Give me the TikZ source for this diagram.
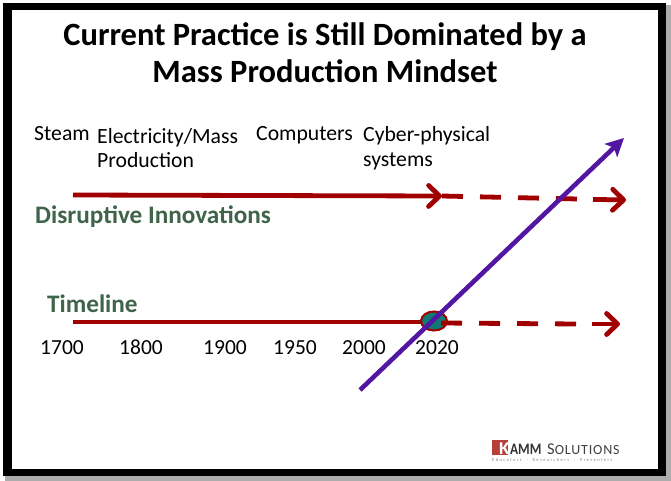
\documentclass[tikz,border=0pt]{standalone}
\usepackage{fontspec}
\setmainfont{Carlito}
\usetikzlibrary{arrows.meta,shapes.geometric}
\definecolor{kred}{HTML}{A00000}
\definecolor{kgreen}{HTML}{3F6449}
\definecolor{kpurple}{HTML}{5216A3}
\definecolor{kteal}{HTML}{0F7A72}
\definecolor{klogo}{HTML}{B5403A}
\tikzset{
  x=1pt,y=-1pt,
  titletext/.style={font=\fontsize{32.5}{37}\selectfont\bfseries,anchor=center,align=center,text=black},
  lab/.style={font=\fontsize{21.7}{24.5}\selectfont,anchor=west,align=left,inner sep=0pt,text=black},
  yr/.style={font=\fontsize{21.5}{25}\selectfont,anchor=base,inner sep=0pt,text=black},
  grn/.style={font=\fontsize{25.2}{29}\selectfont\bfseries,anchor=west,inner sep=0pt,text=kgreen},
  redline/.style={draw=kred,line width=4.8pt},
  redarrow/.style={redline,-{Straight Barb[length=11pt,width=21pt,line width=4.8pt,round]}},
  reddash/.style={redline,dash pattern=on 21pt off 17pt},
  purplearrow/.style={draw=kpurple,line width=4.6pt,-{Stealth[length=18pt,width=18pt,inset=4pt]}},
  logotext/.style={inner sep=0pt,anchor=base west},
}
\begin{document}
\begin{tikzpicture}
\useasboundingbox (0,0) rectangle (671,481);
\fill[gray!65] (5,5) rectangle (671,481);
\fill[black] (3,3) rectangle (666,476);
\fill[white] (12,10) rectangle (658,469);

\node[titletext] (title) at (325,52.5) {Current Practice is Still Dominated by a\\Mass Production Mindset};

\node[lab,anchor=base west] (steam) at (34,141) {Steam};
\node[lab] (elec) at (97,148) {Electricity/Mass\\Production};
\node[lab,anchor=base west] (comp) at (256,141) {Computers};
\node[lab] (cyber) at (363,148) {Cyber-physical\\systems};
\node[grn] (disrupt) at (35,217) {Disruptive Innovations};
\node[grn] (tl) at (47,304) {Timeline};

\node[yr] (y1700) at (62,354) {1700};
\node[yr] (y1800) at (141,354) {1800};
\node[yr] (y1900) at (225,354) {1900};
\node[yr] (y1950) at (295,354) {1950};
\node[yr] (y2000) at (364,354) {2000};
\node[yr] (y2020) at (437,354) {2020};

% top arrow
\coordinate (a0) at (73,195);
\coordinate (a1) at (442,196);
\coordinate (a2) at (626,200);
\coordinate (a3) at (578,199);
\coordinate (a4) at (593,199.4);
\draw[redarrow] (a0) -- (a1);
\draw[reddash] (a1) -- (a3);
\draw[redarrow] (a4) -- (a2);

% timeline
\coordinate (b0) at (73,322);
\coordinate (b1) at (433,322);
\coordinate (b2) at (620,324);
\coordinate (b3) at (592,324);
\coordinate (b4) at (441,323);
\coordinate (b5) at (578,324);
\draw[redline] (b0) -- (b1);
\node[draw=kred,line width=2pt,fill=kteal,ellipse,minimum width=26pt,minimum height=19pt,inner sep=0pt] (dot) at (434,321) {};
\draw[reddash] (b4) -- (b5);
\draw[redarrow] (b3) -- (b2);

% purple
\coordinate (c0) at (360,390);
\coordinate (c1) at (624,138);
\draw[purplearrow] (c0) -- (c1);

% logo
\node[fill=klogo,minimum width=16pt,minimum height=15pt,inner sep=0pt] (logo) at (500,447.5) {};
\node[logotext,font=\fontsize{18}{18}\selectfont\bfseries,text=white,xscale=1.05] (k) at (499,454.5) {K};
\node[logotext,font=\fontsize{16}{16}\selectfont\bfseries,text=black!80,xscale=.83] (amm) at (510,454) {AMM};
\node[logotext,font=\fontsize{16.5}{16}\selectfont,text=black!75] (sol) at (547,454) {S{\fontsize{14}{14}\selectfont\addfontfeature{LetterSpace=6}OLUTIONS}};
\node[logotext,font=\fontsize{4.5}{5}\selectfont\addfontfeature{LetterSpace=32},text=black!50] (tag) at (492,461.5) {Educators \ · \ Researchers \ · \ Presenters};
\end{tikzpicture}
\end{document}
